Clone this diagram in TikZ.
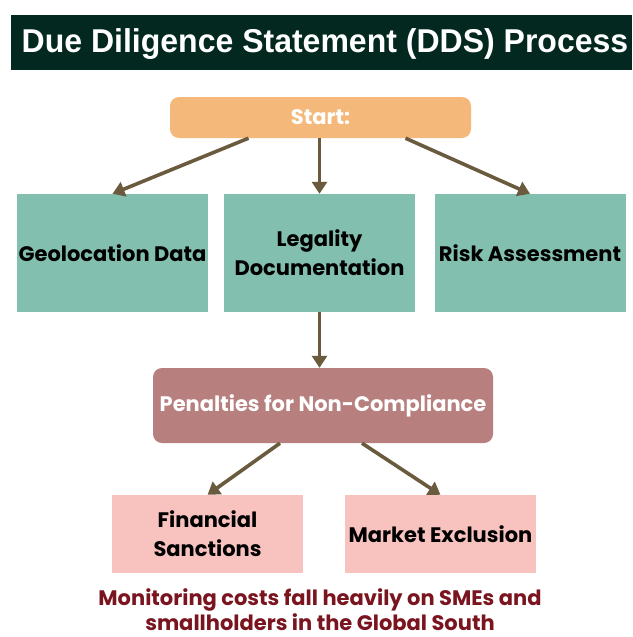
\documentclass[tikz,border=0pt]{standalone}
\usepackage{fontspec}
\setmainfont{Poppins}
\newfontfamily\titlefont[FakeStretch=0.97]{Liberation Sans}
\usetikzlibrary{arrows.meta}

\definecolor{titlebg}{HTML}{022820}
\definecolor{startfill}{HTML}{F4B97A}
\definecolor{tealfill}{HTML}{82BFAF}
\definecolor{rosefill}{HTML}{B77F7E}
\definecolor{pinkfill}{HTML}{F8C3BE}
\definecolor{arrowcol}{HTML}{6B5B3E}
\definecolor{notecol}{HTML}{7A1520}

\tikzset{
  box/.style={inner sep=0pt, align=center, font=\bfseries\fontsize{21}{29}\selectfont},
  tealbox/.style={box, fill=tealfill, minimum width=191pt, minimum height=118pt},
  pinkbox/.style={box, fill=pinkfill, minimum width=191pt, minimum height=78pt},
  roundbox/.style={box, rounded corners=9pt, text=white},
  flow/.style={draw=arrowcol, line width=3.6pt, -{Triangle[length=12pt,width=15pt]}}
}

\begin{document}
\begin{tikzpicture}[x=1pt, y=-1pt]
  \useasboundingbox (0,0) rectangle (632,637);
  \fill[white] (0,0) rectangle (632,637);

  % heading bar
  \fill[titlebg] (11,15) rectangle (632,70);
  \node[text=white, font=\titlefont\bfseries\fontsize{33}{36}\selectfont, inner sep=0pt] (title) at (325,44) {Due Diligence Statement (DDS) Process};

  % start
  \node[roundbox, fill=startfill, minimum width=301pt, minimum height=41pt] (start) at (320.5,117.5) {Start:};

  % requirements
  \node[tealbox] (geo) at (112.5,253) {Geolocation Data};
  \node[tealbox] (leg) at (319.5,253) {Legality\\Documentation};
  \node[tealbox] (risk) at (530,253) {Risk Assessment};

  % penalties
  \node[roundbox, fill=rosefill, minimum width=340pt, minimum height=75pt] (pen) at (323,405.5) {Penalties for Non-Compliance};
  \node[pinkbox] (fin) at (207.5,534) {Financial\\Sanctions};
  \node[pinkbox] (mkt) at (440.5,534) {Market Exclusion};

  % note
  \node[text=notecol, align=center, inner sep=0pt, font=\bfseries\fontsize{21}{25}\selectfont] (note) at (320,609.5) {Monitoring costs fall heavily on SMEs and\\smallholders in the Global South};

  % connectors
  \draw[flow] ([xshift=-72pt]start.south) -- (geo.north);
  \draw[flow] (leg.north |- start.south) -- (leg.north);
  \draw[flow] ([xshift=85pt]start.south) -- (risk.north);
  \draw[flow] (leg.south) -- (leg.south |- pen.north);
  \draw[flow] ([xshift=-43pt]pen.south) -- (fin.north);
  \draw[flow] ([xshift=39pt]pen.south) -- (mkt.north);
\end{tikzpicture}
\end{document}
